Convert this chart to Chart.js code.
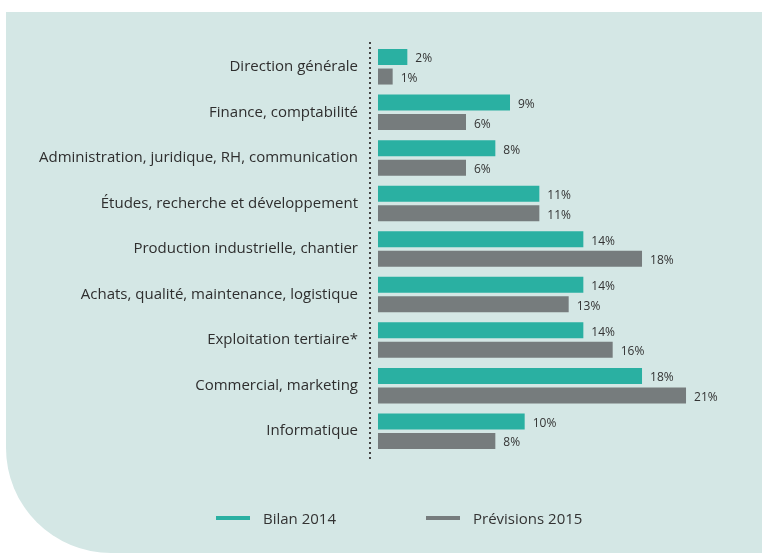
<!DOCTYPE html>
<html>
<head>
    <title>Répartition des recrutements par fonction</title>
    <meta charset="UTF-8">
    <script src="https://cdn.jsdelivr.net/npm/chart.js@4.4.1/dist/chart.umd.min.js"></script>
    <style>
        body { margin: 0; background: #fff; }
        #wrap { position: relative; width: 762px; height: 553px; overflow: hidden; }
        #panel {
            position: absolute; left: 6px; top: 12px; right: 0; bottom: 0;
            background: #d4e7e5; border-bottom-left-radius: 105px;
        }
        #myChart { position: absolute; left: 0; top: 0; }
        #legend {
            position: absolute; top: 507px; left: 0; width: 762px; height: 22px;
            font-family: 'Open Sans', sans-serif; font-size: 15px; color: #333;
        }
        .item { position: absolute; top: 0; display: flex; align-items: center; height: 22px; }
        .swatch { width: 34px; height: 4px; margin-right: 13px; }
    </style>
</head>
<body>
<div id="wrap">
    <div id="panel"></div>
    <canvas id="myChart" width="762" height="553"></canvas>
    <div id="legend"></div>
</div>
<script>
    const categories = [
        'Direction générale',
        'Finance, comptabilité',
        'Administration, juridique, RH, communication',
        'Études, recherche et développement',
        'Production industrielle, chantier',
        'Achats, qualité, maintenance, logistique',
        'Exploitation tertiaire*',
        'Commercial, marketing',
        'Informatique'
    ];
    const bilan2014 = [2, 9, 8, 11, 14, 14, 14, 18, 10];
    const previsions2015 = [1, 6, 6, 11, 18, 13, 16, 21, 8];
    const seriesNames = ['Bilan 2014', 'Prévisions 2015'];
    const seriesColors = ['#2ab0a2', '#767c7d'];

    // legend as plain html
    const legend = document.getElementById('legend');
    const legendX = [216, 426];
    seriesNames.forEach(function (name, i) {
        const el = document.createElement('div');
        el.className = 'item';
        el.style.left = legendX[i] + 'px';
        el.innerHTML = '<span class="swatch" style="background:' + seriesColors[i] + '"></span><span>' + name + '</span>';
        legend.appendChild(el);
    });

    // dotted axis line + value labels at the end of each bar
    const extras = {
        id: 'extras',
        afterDatasetsDraw(chart) {
            const c = chart.ctx;
            const area = chart.chartArea;
            c.save();
            c.strokeStyle = '#444';
            c.lineWidth = 2;
            c.setLineDash([2, 3]);
            c.beginPath();
            c.moveTo(area.left, area.top - 2);
            c.lineTo(area.left, area.bottom + 8);
            c.stroke();
            c.setLineDash([]);

            c.font = '12px "Open Sans", sans-serif';
            c.fillStyle = '#333';
            c.textBaseline = 'middle';
            chart.data.datasets.forEach(function (ds, d) {
                chart.getDatasetMeta(d).data.forEach(function (bar, i) {
                    c.fillText(ds.data[i] + '%', bar.x + 8, bar.y + 2);
                });
            });
            c.restore();
        }
    };

    let ctx = document.getElementById('myChart').getContext('2d');
    let myChart = new Chart(ctx, {
        type: 'bar',
        data: {
            labels: categories,
            datasets: [
                { label: seriesNames[0], data: bilan2014, backgroundColor: seriesColors[0] },
                { label: seriesNames[1], data: previsions2015, backgroundColor: seriesColors[1] }
            ]
        },
        options: {
            indexAxis: 'y',
            responsive: false,
            animation: false,
            categoryPercentage: 0.857,
            barPercentage: 0.82,
            layout: { padding: { top: 44, bottom: 99, right: 22, left: 0 } },
            plugins: { legend: { display: false }, tooltip: { enabled: false } },
            scales: {
                x: { display: false, min: -0.545, max: 24.68 },
                y: {
                    grid: { display: false },
                    border: { display: false },
                    ticks: {
                        padding: 4,
                        color: '#2e2e2e',
                        font: { family: 'Open Sans', size: 15 }
                    },
                    afterFit(scale) { scale.width = 370; }
                }
            }
        },
        plugins: [extras]
    });
</script>
</body>
</html>
